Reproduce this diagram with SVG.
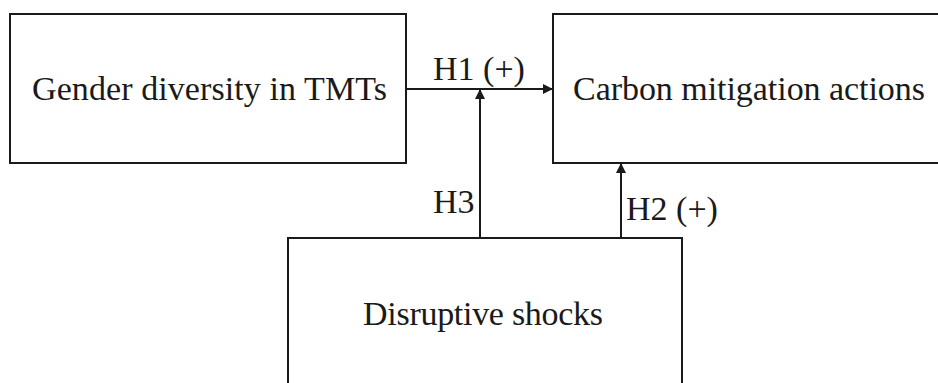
<svg xmlns="http://www.w3.org/2000/svg" width="938" height="383" viewBox="0 0 938 383">
  <style>
    .box { fill: #ffffff; stroke: #1a1a1a; stroke-width: 2; }
    .lbl { font-family: "Liberation Serif", "Times New Roman", serif; font-size: 34px; fill: #1a1a1a; }
    .edge { stroke: #1a1a1a; stroke-width: 2; fill: none; marker-end: url(#head); }
  </style>
  <defs>
    <marker id="head" viewBox="0 0 10 10" refX="10" refY="5" markerWidth="10" markerHeight="10" markerUnits="userSpaceOnUse" orient="auto">
      <path d="M0,0 L10,5 L0,10 z" fill="#1a1a1a"/>
    </marker>
  </defs>
  <rect width="938" height="383" fill="#ffffff"/>

  <g id="gender-diversity">
    <rect class="box" x="10" y="14" width="396" height="149"/>
    <text class="lbl" x="32" y="100" textLength="355" lengthAdjust="spacing">Gender diversity in TMTs</text>
  </g>

  <g id="carbon-mitigation">
    <rect class="box" x="553" y="14" width="400" height="149"/>
    <text class="lbl" x="573" y="100" textLength="352" lengthAdjust="spacing">Carbon mitigation actions</text>
  </g>

  <g id="disruptive-shocks">
    <rect class="box" x="288" y="238" width="394" height="160"/>
    <text class="lbl" x="363" y="325" textLength="240" lengthAdjust="spacing">Disruptive shocks</text>
  </g>

  <g id="connectors">
    <line class="edge" x1="406" y1="89" x2="553" y2="89"/>
    <line class="edge" x1="480" y1="238" x2="480" y2="89"/>
    <line class="edge" x1="621" y1="238" x2="621" y2="163"/>
    <text class="lbl" x="433" y="80">H1 (+)</text>
    <text class="lbl" x="433" y="213">H3</text>
    <text class="lbl" x="626" y="220">H2 (+)</text>
  </g>
</svg>
